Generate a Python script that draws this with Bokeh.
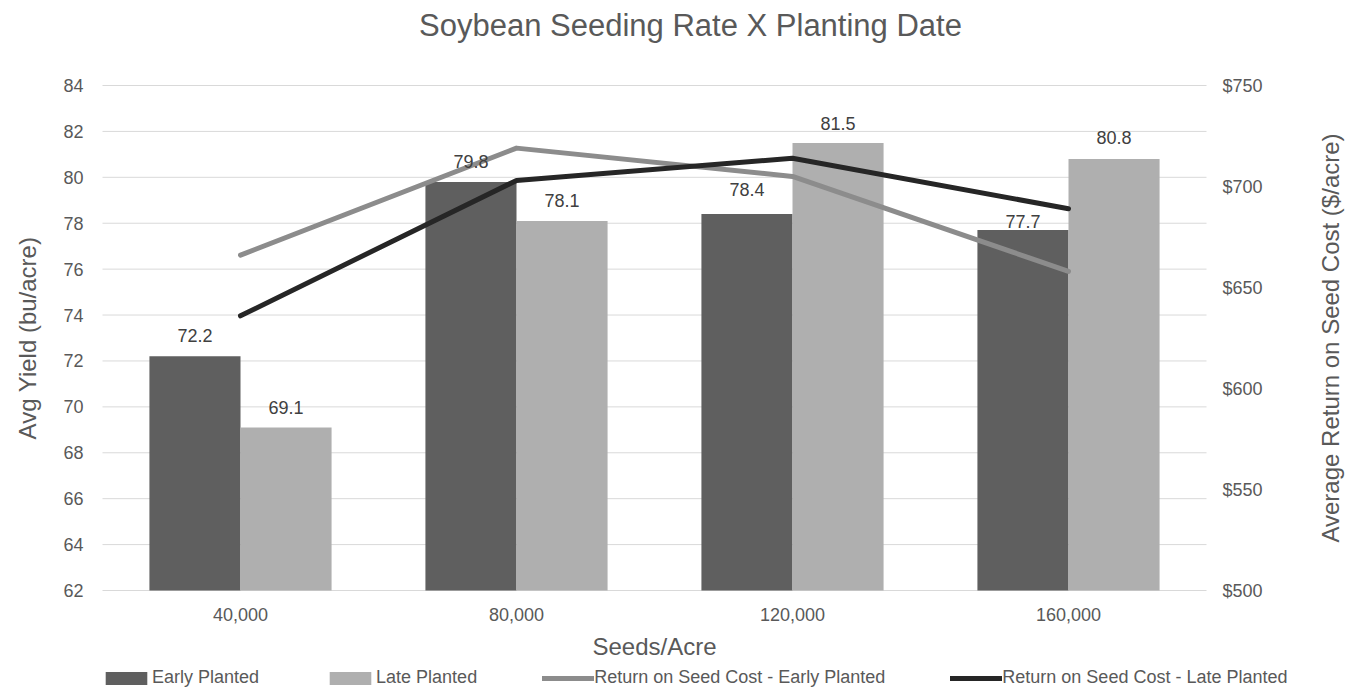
import math
from bokeh.plotting import figure
from bokeh.models import (ColumnDataSource, Range1d, LabelSet, Label, Legend, LegendItem)
from bokeh.transform import dodge
from bokeh.core.properties import value
from bokeh.embed import file_html
from bokeh.resources import INLINE

# ---- data ----
seeding_rates = ["40,000", "80,000", "120,000", "160,000"]
early_yield = [72.2, 79.8, 78.4, 77.7]
late_yield = [69.1, 78.1, 81.5, 80.8]
early_return = [666, 719, 705, 658]
late_return = [636, 703, 714, 689]
yield_ticks = [62, 64, 66, 68, 70, 72, 74, 76, 78, 80, 82, 84]
return_ticks = [500, 550, 600, 650, 700, 750]
legend_labels = ["Early Planted", "Late Planted",
                 "Return on Seed Cost - Early Planted", "Return on Seed Cost - Late Planted"]
title = "Soybean Seeding Rate X Planting Date"
x_title = "Seeds/Acre"
y_title = "Avg Yield (bu/acre)"
y2_title = "Average Return on Seed Cost ($/acre)"

# ---- style / layout (pixels) ----
FONT = "Liberation Sans"
TEXT = "#595959"
LBL = "#404040"
EARLY_BAR = "#5f5f5f"
LATE_BAR = "#afafaf"
EARLY_LINE = "#8c8c8c"
LATE_LINE = "#262626"
GRID = "#d9d9d9"
W, H = 1358, 689
PX_L, PX_R, PX_T, PX_B = 102, 1206, 85, 590      # plotting area inside the canvas
BAR_W = 0.33
early_label_offset = [14, 14, 18, 2]
late_label_offset = [14, 14, 13, 15]

n = len(seeding_rates)
cat_px = (PX_R - PX_L) / n
x_rng = Range1d(-0.5 - PX_L / cat_px, n - 0.5 + (W - PX_R) / cat_px)
y_lo, y_hi = yield_ticks[0], yield_ticks[-1]
ppu = (PX_B - PX_T) / (y_hi - y_lo)
y_rng = Range1d(y_lo - (H - PX_B) / ppu, y_hi + PX_T / ppu)
r_lo, r_hi = return_ticks[0], return_ticks[-1]
rppu = (PX_B - PX_T) / (r_hi - r_lo)
r_rng = Range1d(r_lo - (H - PX_B) / rppu, r_hi + PX_T / rppu)

src = ColumnDataSource(dict(
    idx=list(range(n)),
    rate=seeding_rates,
    early=early_yield,
    late=late_yield,
    early_ret=early_return,
    late_ret=late_return,
    early_lbl=[f"{v:.1f}" for v in early_yield],
    late_lbl=[f"{v:.1f}" for v in late_yield],
    early_off=early_label_offset,
    late_off=late_label_offset,
    base=[y_lo] * n,
))

p = figure(width=W, height=H, x_range=x_rng, y_range=y_rng,
           x_axis_location=None, y_axis_location=None,
           output_backend="svg", toolbar_location=None, min_border=0)
p.extra_y_ranges = {"ret": r_rng}
p.outline_line_color = None
p.grid.visible = False

# gridlines at the yield ticks, across the plotting area
grid_src = ColumnDataSource(dict(t=yield_ticks))
p.segment(x0=-0.5, x1=n - 0.5, y0="t", y1="t", source=grid_src,
          line_color=GRID, line_width=1)

# bars
early_bars = p.vbar(x=dodge("idx", -BAR_W / 2), top="early", bottom="base", width=BAR_W,
                    fill_color=EARLY_BAR, line_color=None, source=src)
late_bars = p.vbar(x=dodge("idx", BAR_W / 2), top="late", bottom="base", width=BAR_W,
                   fill_color=LATE_BAR, line_color=None, source=src)

# return lines on the secondary scale
early_line = p.line(x="idx", y="early_ret", y_range_name="ret", line_color=EARLY_LINE,
                    line_width=5, line_cap="round", line_join="round", source=src)
late_line = p.line(x="idx", y="late_ret", y_range_name="ret", line_color=LATE_LINE,
                   line_width=5, line_cap="round", line_join="round", source=src)

# bar value labels
for col, lbl, off, dx in (("early", "early_lbl", "early_off", -BAR_W / 2),
                          ("late", "late_lbl", "late_off", BAR_W / 2)):
    p.add_layout(LabelSet(x=dodge("idx", dx), y=col, text=lbl, y_offset=off, source=src,
                          text_align="center", text_baseline="alphabetic",
                          text_font=value(FONT), text_font_size="18px", text_color=LBL))

# left axis tick labels
ly_src = ColumnDataSource(dict(v=yield_ticks, t=[str(v) for v in yield_ticks],
                               x=[-0.5] * len(yield_ticks)))
p.add_layout(LabelSet(x="x", y="v", text="t", x_offset=-19, source=ly_src,
                      text_align="right", text_baseline="middle", text_font=value(FONT),
                      text_font_size="18px", text_color=TEXT))
# right axis tick labels
ry_src = ColumnDataSource(dict(v=return_ticks, t=[f"${v}" for v in return_ticks],
                               x=[n - 0.5] * len(return_ticks)))
p.add_layout(LabelSet(x="x", y="v", text="t", x_offset=16, y_range_name="ret",
                      source=ry_src, text_align="left", text_baseline="middle",
                      text_font=value(FONT), text_font_size="18px", text_color=TEXT))
# category tick labels
p.add_layout(LabelSet(x="idx", y="base", text="rate", y_offset=-24, source=src,
                      text_align="center", text_baseline="middle", text_font=value(FONT),
                      text_font_size="18px", text_color=TEXT))

# axis titles and chart title
common = dict(text_font=FONT, text_color=TEXT, text_align="center", text_baseline="middle")
p.add_layout(Label(x=(n - 1) / 2, y=y_lo, y_offset=-56, text=x_title,
                   text_font_size="24px", **common))
p.add_layout(Label(x=-0.5, x_offset=-75, y=(y_lo + y_hi) / 2, angle=math.pi / 2,
                   text=y_title, text_font_size="24px", **common))
p.add_layout(Label(x=n - 0.5, x_offset=124, y=(y_lo + y_hi) / 2, angle=math.pi / 2,
                   text=y2_title, text_font_size="24px", **common))
p.add_layout(Label(x=(n - 1) / 2, x_offset=36, y=y_hi, y_offset=60, text=title,
                   text_font_size="31px", **common))

# legend under the chart
legend = Legend(items=[LegendItem(label=t, renderers=[r]) for t, r in
                       zip(legend_labels, (early_bars, late_bars, early_line, late_line))],
                orientation="horizontal", location=(100, 1), glyph_width=52, glyph_height=16,
                label_standoff=0, spacing=65, padding=0, margin=0,
                border_line_color=None, background_fill_alpha=0,
                label_text_font=FONT, label_text_font_size="18px", label_text_color=TEXT,
                label_height=20)
p.add_layout(legend, "center")

open("out.html", "w").write(file_html(p, INLINE))
